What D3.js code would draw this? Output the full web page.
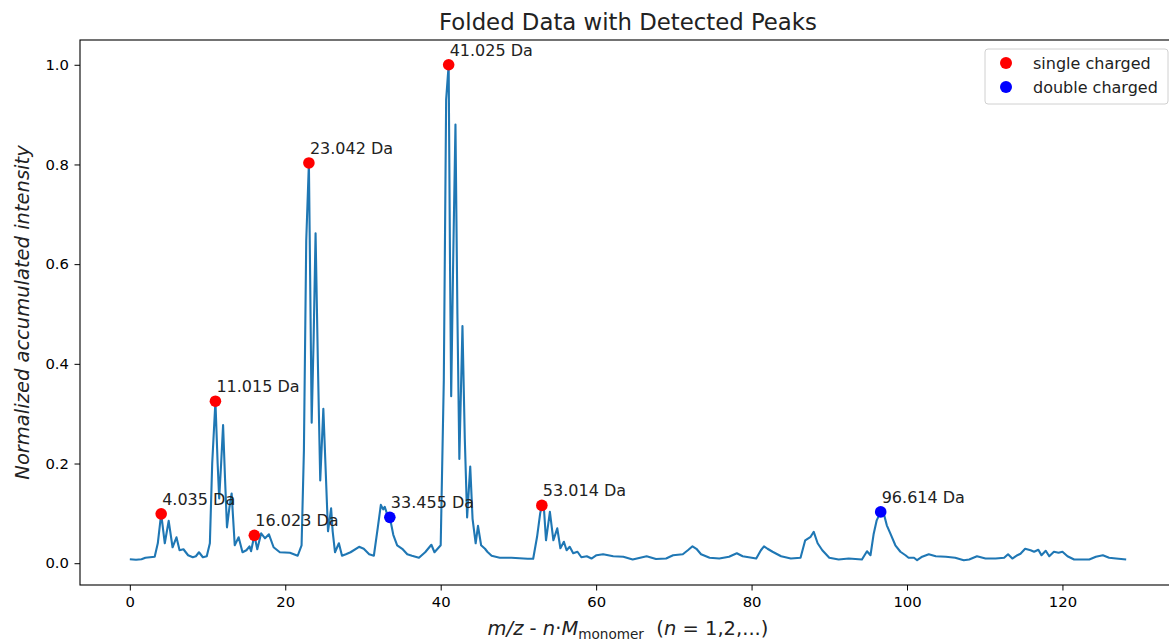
<!DOCTYPE html>
<html>
<head>
<meta charset="utf-8">
<script src="https://cdnjs.cloudflare.com/ajax/libs/d3/7.8.5/d3.min.js"></script>
<style>
  body { margin: 0; background: #fff; }
  text { font-family: "DejaVu Sans", sans-serif; fill: #000; }
</style>
</head>
<body>
<script>
// folded spectrum (x in Da, y normalized)
var foldX = [0.0, 0.8, 1.5, 2.0, 2.6, 3.2, 3.6, 4.035, 4.5, 5.0, 5.5, 6.0, 6.4, 6.9, 7.5, 8.1, 8.5, 8.9, 9.4, 9.9,
  10.3, 10.6, 11.015, 11.3, 11.5, 11.75, 12.0, 12.25, 12.5, 12.8, 13.1, 13.5, 14.0, 14.5, 15.0, 15.4, 15.6, 16.023,
  16.4, 16.9, 17.4, 17.9, 18.5, 19.3, 20.6, 21.6, 22.1, 22.4, 22.7, 23.042, 23.2, 23.4, 23.65, 23.9, 24.2, 24.5,
  24.9, 25.5, 25.9, 26.1, 26.4, 26.9, 27.3, 27.8, 28.4, 29.5, 30.1, 30.8, 31.4, 31.9, 32.3, 32.6, 32.8, 33.1,
  33.455, 33.9, 34.4, 35.05, 35.7, 36.3, 37.2, 38.0, 38.8, 39.2, 40.0, 40.4, 40.7, 41.025, 41.2, 41.35, 41.6,
  41.9, 42.15, 42.4, 42.8, 43.1, 43.4, 43.8, 44.1, 44.5, 44.8, 45.2, 45.7, 46.0, 46.55, 47.6, 49.1, 51.2, 51.9,
  52.4, 52.8, 53.014, 53.3, 53.55, 54.05, 54.5, 55.0, 55.4, 55.85, 56.2, 56.6, 57.05, 57.6, 58.1, 58.8, 59.4,
  60.05, 60.9, 62.2, 63.5, 64.7, 66.5, 67.7, 69.0, 69.9, 71.15, 71.8, 72.4, 72.9, 73.5, 74.6, 75.85, 77.1, 78.1,
  78.85, 80.6, 81.2, 81.6, 82.05, 82.7, 83.8, 85.05, 86.3, 86.9, 87.3, 87.6, 88.0, 88.5, 89.1, 90.0, 91.2, 92.5,
  94.2, 94.85, 95.3, 95.7, 96.1, 96.614, 97.0, 97.4, 97.85, 98.5, 99.15, 99.8, 100.2, 100.9, 101.3, 101.95,
  102.8, 103.7, 105.0, 106.2, 107.3, 108.0, 109.0, 110.1, 111.4, 112.5, 113.0, 113.55, 114.2, 114.6, 115.2,
  115.9, 116.35, 116.9, 117.3, 117.85, 118.3, 118.9, 119.5, 120.0, 120.65, 121.5, 123.45, 124.3, 125.2, 126.0,
  126.9, 128.2];
var foldY = [0.008, 0.007, 0.008, 0.011, 0.012, 0.013, 0.04, 0.099, 0.04, 0.085, 0.032, 0.052, 0.026, 0.028,
  0.016, 0.012, 0.014, 0.022, 0.012, 0.014,
  0.04, 0.2, 0.325, 0.2, 0.13, 0.2, 0.277, 0.17, 0.072, 0.11, 0.14, 0.036, 0.052, 0.022, 0.026, 0.034, 0.024, 0.056,
  0.028, 0.06, 0.05, 0.058, 0.032, 0.022, 0.021, 0.015, 0.036, 0.226, 0.648, 0.803, 0.578, 0.282, 0.45, 0.662, 0.4, 0.166,
  0.31, 0.064, 0.11, 0.064, 0.022, 0.04, 0.015, 0.018, 0.022, 0.033, 0.029, 0.018, 0.015, 0.071, 0.117, 0.108, 0.113, 0.099,
  0.092, 0.057, 0.036, 0.029, 0.018, 0.015, 0.011, 0.022, 0.037, 0.022, 0.036, 0.367, 0.93, 1.0, 0.6, 0.335, 0.6,
  0.88, 0.5, 0.209, 0.476, 0.25, 0.092, 0.194, 0.089, 0.04, 0.075, 0.036, 0.029, 0.023, 0.015, 0.011, 0.011, 0.009, 0.009,
  0.053, 0.1, 0.116, 0.106, 0.046, 0.103, 0.046, 0.07, 0.03, 0.043, 0.026, 0.033, 0.02, 0.023, 0.012, 0.014, 0.0094,
  0.016, 0.018, 0.014, 0.013, 0.0075, 0.014, 0.0085, 0.0094, 0.016, 0.018, 0.026, 0.034, 0.029, 0.018, 0.011, 0.0094, 0.013, 0.02,
  0.014, 0.0094, 0.026, 0.034, 0.029, 0.023, 0.014, 0.0094, 0.011, 0.046, 0.05, 0.053, 0.063, 0.04, 0.026, 0.011, 0.0075, 0.0094,
  0.0075, 0.024, 0.016, 0.058, 0.086, 0.103, 0.1, 0.076, 0.06, 0.036, 0.023, 0.016, 0.011, 0.011, 0.006, 0.013,
  0.018, 0.014, 0.013, 0.011, 0.006, 0.0075, 0.014, 0.0094, 0.0094, 0.011, 0.018, 0.0094, 0.016, 0.019, 0.029,
  0.026, 0.023, 0.027, 0.016, 0.025, 0.014, 0.023, 0.021, 0.023, 0.014, 0.0075, 0.0075, 0.013, 0.016, 0.011,
  0.0094, 0.0075];

// detected peaks
var singleX = [4.035, 11.015, 16.023, 23.042, 41.025, 53.014];
var singleY = [0.099, 0.325, 0.056, 0.803, 1.0, 0.116];
var doubleX = [33.455, 96.614];
var doubleY = [0.092, 0.103];

var xTicks = [0, 20, 40, 60, 80, 100, 120];
var yTicks = [0.0, 0.2, 0.4, 0.6, 0.8, 1.0];

var data = foldX.map(function(x, i) { return {x: x, y: foldY[i]}; });
var singles = singleX.map(function(x, i) { return {x: x, y: singleY[i], c: "red"}; });
var doubles = doubleX.map(function(x, i) { return {x: x, y: doubleY[i], c: "blue"}; });

// axes box (right side runs past the window, like the picture)
var margin = {top: 40, left: 80},
    width = 1096,
    height = 545;

var svg = d3.select("body").append("svg")
    .attr("width", 1169)
    .attr("height", 643);

// matplotlib style 5% padding on both scales
var xMin = d3.min(foldX), xMax = d3.max(foldX), xPad = (xMax - xMin) * 0.05;
var yMin = d3.min(foldY), yMax = d3.max(foldY), yPad = (yMax - yMin) * 0.05;

var x = d3.scaleLinear()
          .domain([xMin - xPad, xMax + xPad])
          .range([0, width]);
var y = d3.scaleLinear()
          .domain([yMin - yPad, yMax + yPad])
          .range([height, 0]);

var g = svg.append("g")
    .attr("transform", "translate(" + margin.left + "," + margin.top + ")");

// the folded curve
var line = d3.line()
    .x(function(d) { return x(d.x); })
    .y(function(d) { return y(d.y); });

g.append("path")
    .datum(data)
    .attr("fill", "none")
    .attr("stroke", "#1f77b4")
    .attr("stroke-width", 2.1)
    .attr("stroke-linejoin", "round")
    .attr("d", line);

// peak markers
var peaks = singles.concat(doubles);
g.selectAll(".peak")
    .data(peaks)
  .enter().append("circle")
    .attr("class", "peak")
    .attr("r", 5.8)
    .attr("cx", function(d) { return x(d.x); })
    .attr("cy", function(d) { return y(d.y); })
    .attr("fill", function(d) { return d.c; });

// peak labels
g.selectAll(".plabel")
    .data(peaks)
  .enter().append("text")
    .attr("class", "plabel")
    .attr("x", function(d) { return x(d.x) + 1; })
    .attr("y", function(d) { return y(d.y) - 9; })
    .style("font-size", "16px")
    .style("fill", "#222")
    .text(function(d) { return d.x.toFixed(3) + " Da"; });

// x axis
var xAxis = g.append("g")
    .attr("transform", "translate(0," + height + ")")
    .call(d3.axisBottom(x).tickValues(xTicks).tickSize(5.5).tickPadding(5.5)
      .tickFormat(d3.format("d")));

// y axis
var yAxis = g.append("g")
    .call(d3.axisLeft(y).tickValues(yTicks).tickSize(5.5).tickPadding(5.5)
      .tickFormat(d3.format(".1f")));

[xAxis, yAxis].forEach(function(a) {
  a.select(".domain").remove();
  a.selectAll("line").attr("stroke", "#000").attr("stroke-width", 1);
  a.selectAll("text").style("font-size", "14.8px").style("font-family", "DejaVu Sans").attr("fill", "#222");
});

// frame
g.append("rect")
    .attr("width", width)
    .attr("height", height)
    .attr("fill", "none")
    .attr("stroke", "#000")
    .attr("stroke-width", 1.1);

// title
svg.append("text")
    .attr("x", margin.left + width / 2)
    .attr("y", 30)
    .attr("text-anchor", "middle")
    .style("font-size", "22.8px")
    .style("fill", "#222")
    .text("Folded Data with Detected Peaks");

// y label
svg.append("text")
    .attr("transform", "translate(29," + (margin.top + height / 2) + ") rotate(-90)")
    .attr("text-anchor", "middle")
    .style("font-size", "19.5px")
    .style("font-style", "italic")
    .style("fill", "#222")
    .text("Normalized accumulated intensity");

// x label, mathtext-ish
var xl = svg.append("text")
    .attr("x", margin.left + width / 2)
    .attr("y", 635)
    .attr("text-anchor", "middle")
    .style("font-size", "19.5px")
    .style("fill", "#222");
xl.append("tspan").style("font-style", "italic").text("m/z");
xl.append("tspan").text(" - ");
xl.append("tspan").style("font-style", "italic").text("n");
xl.append("tspan").text("\u00b7");
xl.append("tspan").style("font-style", "italic").text("M");
xl.append("tspan").attr("dy", 4).style("font-size", "13.6px").text("monomer");
xl.append("tspan").attr("dy", -4).text("\u00a0\u00a0(");
xl.append("tspan").style("font-style", "italic").text("n");
xl.append("tspan").text(" = 1,2,...)");

// legend
var leg = svg.append("g")
    .attr("transform", "translate(985,49)");

leg.append("rect")
    .attr("width", 183)
    .attr("height", 55)
    .attr("rx", 3)
    .attr("fill", "#fff")
    .attr("fill-opacity", 0.8)
    .attr("stroke", "#d0d0d0")
    .attr("stroke-width", 1);

var legItems = [{label: "single charged", c: "red"}, {label: "double charged", c: "blue"}];
legItems.forEach(function(d, i) {
  leg.append("circle")
      .attr("cx", 21)
      .attr("cy", 14 + i * 24)
      .attr("r", 6)
      .attr("fill", d.c);
  leg.append("text")
      .attr("x", 48)
      .attr("y", 14 + i * 24 + 5.5)
      .style("font-size", "16px")
      .style("fill", "#222")
      .text(d.label);
});
</script>
</body>
</html>
